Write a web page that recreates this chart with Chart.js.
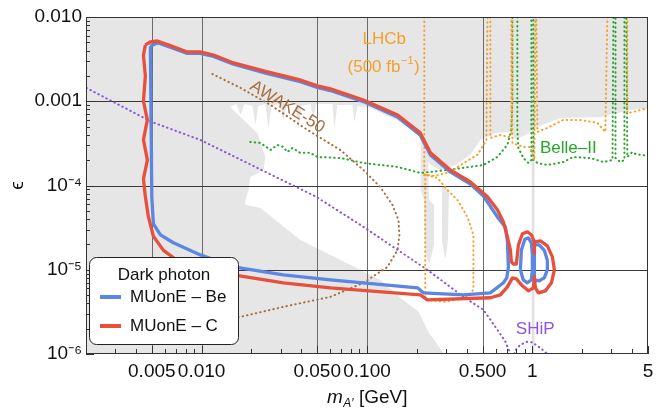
<!DOCTYPE html>
<html>
<head>
<meta charset="utf-8">
<title>Dark photon reach</title>
<script src="https://cdn.jsdelivr.net/npm/chart.js@4.4.1/dist/chart.umd.min.js"></script>
<style>
    html, body { margin: 0; padding: 0; background: #fff; }
    canvas { display: block; }
</style>
</head>
<body>
<canvas id="reachChart" width="668" height="411"></canvas>
<script>

/*
 * Data: [m_A' (GeV), epsilon]
 */

const xTickValues = [0.005, 0.01, 0.05, 0.1, 0.5, 1, 5];
const xTickLabels = ["0.005", "0.010", "0.050", "0.100", "0.500", "1", "5"];

const yTickValues = [1e-6, 1e-5, 1e-4, 1e-3, 1e-2];
const yTickLabels = ["10\u207B\u2076", "10\u207B\u2075", "10\u207B\u2074", "0.001", "0.010"];

const gridX = [0.005, 0.01, 0.05, 0.1, 0.5];
const gridY = [1e-5, 1e-4, 1e-3];

// white (not yet excluded) window inside the grey exclusions
const allowedRegion = [
    [0.0149, 8.56e-4], [0.0162, 9.3e-4], [0.0172, 6.88e-4], [0.0182, 9.3e-4],
    [0.0203, 8.8e-4], [0.0212, 5.24e-4], [0.0220, 8.8e-4], [0.0243, 9.3e-4],
    [0.0254, 4.82e-4], [0.0264, 8.8e-4], [0.0299, 9.3e-4], [0.0312, 6.0e-4],
    [0.0326, 9.04e-4], [0.0369, 9.3e-4], [0.0385, 4.57e-4], [0.0401, 8.8e-4],
    [0.0455, 9.3e-4], [0.0474, 6.34e-4], [0.0494, 9.3e-4], [0.0618, 9.3e-4],
    [0.0635, 4.82e-4], [0.0662, 9.04e-4], [0.0816, 9.04e-4], [0.0839, 5.68e-4],
    [0.0875, 8.8e-4], [0.105, 8.33e-4], [0.129, 6.88e-4], [0.155, 5.84e-4],
    [0.183, 4.82e-4], [0.210, 3.88e-4], [0.213, 2.64e-4], [0.242, 1.75e-4],
    [0.278, 1.53e-4], [0.342, 1.75e-4], [0.422, 2.31e-4], [0.485, 3.48e-4],
    [0.597, 4.21e-4], [0.736, 4.33e-4], [0.789, 3.48e-4], [0.907, 3.98e-4],
    [1.072, 4.96e-4], [1.476, 6.34e-4], [2.58, 6.52e-4], [3.91, 7.88e-4],
    [5.2, 8.33e-4], [5.2, 9.5e-7], [0.298, 9.5e-7], [0.235, 1.83e-6],
    [0.205, 3.17e-6], [0.159, 4.65e-6], [0.120, 7.59e-6], [0.0601, 1.5e-5],
    [0.0395, 2.26e-5], [0.0227, 5.42e-5], [0.0184, 5.89e-5], [0.0184, 6.75e-5],
    [0.0192, 8.87e-5], [0.0197, 1.26e-4], [0.0237, 1.53e-4], [0.0243, 2.18e-4],
    [0.0217, 4.21e-4], [0.0172, 6.52e-4], [0.0149, 8.56e-4]
];

const greyIslandA = [
    [0.213, 3.48e-4], [0.232, 3.48e-4], [0.235, 6.75e-5], [0.252, 5.89e-5],
    [0.252, 1.97e-5], [0.238, 1.21e-5], [0.225, 1.72e-5], [0.222, 6.75e-5],
    [0.213, 8.87e-5], [0.213, 3.48e-4]
];

const greyIslandB = [
    [0.286, 9.62e-5], [0.311, 8.87e-5], [0.306, 2.26e-5], [0.298, 1.42e-5],
    [0.286, 2.26e-5], [0.286, 9.62e-5]
];

const phiBand = [[1.01, 1e-6], [1.01, 1e-2]];

const muoneC = [
    [0.00457, 4.66e-3], [0.00490, 5.05e-3], [0.00540, 5.19e-3], [0.0064, 4.6e-3],
    [0.0082, 3.85e-3], [0.0098, 3.85e-3], [0.0118, 3.54e-3], [0.0156, 2.85e-3],
    [0.0250, 2.23e-3], [0.0395, 1.79e-3], [0.0501, 1.52e-3], [0.0601, 1.40e-3],
    [0.0951, 1.035e-3], [0.153, 6.88e-4], [0.210, 4.21e-4], [0.242, 2.44e-4],
    [0.319, 1.53e-4], [0.422, 1.10e-4], [0.535, 7.33e-5], [0.614, 5.14e-5],
    [0.668, 3.70e-5], [0.706, 2.46e-5], [0.736, 1.72e-5], [0.746, 1.24e-5],
    [0.768, 1.17e-5], [0.800, 1.17e-5], [0.823, 1.97e-5], [0.870, 2.67e-5],
    [0.933, 2.82e-5], [0.986, 2.59e-5], [1.028, 2.14e-5], [1.118, 2.20e-5],
    [1.232, 1.92e-5], [1.321, 1.42e-5], [1.358, 9.97e-6], [1.303, 7.0e-6],
    [1.20, 5.62e-6], [1.087, 5.32e-6], [1.043, 6.10e-6], [1.028, 8.24e-6],
    [1.014, 6.10e-6], [0.946, 5.62e-6], [0.870, 6.44e-6], [0.800, 7.80e-6],
    [0.757, 8.02e-6], [0.706, 6.27e-6], [0.641, 5.04e-6], [0.557, 4.65e-6],
    [0.232, 4.40e-6], [0.210, 5.04e-6], [0.0601, 6.10e-6], [0.0312, 7.0e-6],
    [0.0156, 8.7e-6], [0.00776, 1.14e-5], [0.00588, 1.7e-5], [0.00511, 2.5e-5],
    [0.00477, 4.24e-5], [0.00457, 7.33e-5], [0.00445, 1.2e-4], [0.00470, 2.0e-4],
    [0.00445, 3.5e-4], [0.00470, 6.0e-4], [0.00445, 1.0e-3], [0.00457, 2.0e-3],
    [0.00445, 3.5e-3], [0.00457, 4.66e-3]
];

const muoneCInner = [[1.028, 2.14e-5], [1.028, 1.55e-5]];

const muoneBe = [
    [0.00490, 4.5e-3], [0.00540, 4.95e-3], [0.0064, 4.4e-3], [0.0082, 3.7e-3],
    [0.0098, 3.7e-3], [0.0118, 3.4e-3], [0.0156, 2.75e-3], [0.0250, 2.13e-3],
    [0.0395, 1.71e-3], [0.0501, 1.46e-3], [0.0601, 1.34e-3], [0.0951, 9.9e-4],
    [0.153, 6.5e-4], [0.210, 3.95e-4], [0.242, 2.3e-4], [0.319, 1.45e-4],
    [0.422, 1.04e-4], [0.506, 7.5e-5], [0.614, 4.24e-5], [0.687, 3.2e-5],
    [0.706, 2.2e-5], [0.716, 1.08e-5], [0.700, 8.0e-6], [0.668, 7.0e-6],
    [0.557, 5.32e-6], [0.383, 5.04e-6], [0.219, 5.32e-6], [0.202, 6.1e-6],
    [0.0601, 7.59e-6], [0.0312, 8.7e-6], [0.0156, 1.08e-5], [0.00984, 1.5e-5],
    [0.00675, 2.09e-5], [0.00564, 2.6e-5], [0.00511, 3.5e-5], [0.00500, 7.3e-5],
    [0.00490, 4.5e-3]
];

const muoneBeLoopLeft = [
    [0.846, 1.0e-5], [0.858, 1.72e-5], [0.90, 2.3e-5], [0.946, 2.39e-5],
    [0.986, 2.09e-5], [1.0, 1.5e-5], [1.0, 1.0e-5], [0.986, 7.59e-6],
    [0.933, 7.0e-6], [0.880, 7.59e-6], [0.846, 1.0e-5]
];

const muoneBeLoopRight = [
    [1.028, 1.97e-5], [1.10, 1.97e-5], [1.18, 1.7e-5], [1.232, 1.3e-5],
    [1.232, 1.0e-5], [1.18, 8.0e-6], [1.10, 7.4e-6], [1.028, 7.6e-6],
    [1.028, 1.97e-5]
];

const shipMain = [
    [0.00201, 1.44e-3], [0.005, 5.68e-4], [0.00984, 3.47e-4], [0.0494, 7.33e-5],
    [0.0951, 3.23e-5], [0.153, 1.72e-5], [0.232, 9.97e-6], [0.383, 4.77e-6],
    [0.506, 3.34e-6], [0.614, 1.94e-6], [0.687, 1.40e-6], [0.736, 1.0e-6],
    [0.75, 8e-7]
];

const shipBump = [
    [0.757, 9e-7], [0.80, 1.15e-6], [0.846, 1.29e-6], [0.933, 1.40e-6],
    [1.0, 1.37e-6], [1.118, 1.18e-6], [1.232, 1.0e-6], [1.28, 9e-7]
];

const awake50 = [
    [0.0116, 2.11e-3], [0.0172, 1.44e-3], [0.0261, 9.04e-4], [0.0436, 4.57e-4],
    [0.0690, 2.64e-4], [0.0951, 1.53e-4], [0.120, 9.62e-5], [0.1425, 5.89e-5],
    [0.155, 3.91e-5], [0.157, 2.59e-5], [0.153, 1.72e-5], [0.133, 1.08e-5],
    [0.0951, 7.0e-6], [0.0601, 4.77e-6], [0.0312, 3.63e-6], [0.0172, 2.76e-6],
    [0.00984, 2.22e-6]
];

const belle2 = [
    [0.0197, 3.29e-4], [0.0227, 3.20e-4], [0.0261, 2.64e-4], [0.0287, 3.03e-4],
    [0.0312, 2.87e-4], [0.0330, 2.50e-4], [0.0354, 2.79e-4], [0.0395, 2.44e-4],
    [0.0455, 2.44e-4], [0.0501, 2.18e-4], [0.0690, 2.12e-4], [0.0951, 1.85e-4],
    [0.153, 1.66e-4], [0.210, 1.41e-4], [0.242, 1.45e-4], [0.383, 1.62e-4],
    [0.506, 1.75e-4], [0.614, 2.18e-4], [0.706, 3.03e-4], [0.746, 4.57e-4],
    [0.757, 1.035e-3], [0.757, 1e-2], null,
    [0.811, 1e-2], [0.811, 4.57e-4], [0.823, 2.79e-4], [0.882, 2.12e-4],
    [0.946, 1.85e-4], [0.986, 2.01e-4], [0.986, 1e-2], [1.014, 1e-2],
    [1.014, 2.01e-4], [1.072, 1.85e-4], [1.232, 1.75e-4], [1.539, 1.90e-4],
    [1.769, 2.18e-4], [2.24, 2.12e-4], [2.69, 1.90e-4], [3.05, 2.01e-4],
    [3.09, 1e-2], [3.18, 1e-2], [3.18, 2.12e-4], [3.40, 1.90e-4],
    [3.60, 2.01e-4], [3.60, 1e-2], [3.70, 1e-2], [3.75, 2.18e-4],
    [4.02, 2.50e-4], [4.20, 2.37e-4], [4.50, 2.31e-4], [5.0, 2.25e-4]
];

const lhcbPrompt = [
    [0.222, 1e-2], [0.222, 1.34e-4], [0.259, 1.30e-4], [0.319, 1.45e-4],
    [0.394, 1.90e-4], [0.465, 2.31e-4], [0.506, 3.03e-4], [0.527, 3.48e-4],
    [0.535, 1e-2], [0.557, 1e-2], [0.557, 3.67e-4], [0.641, 3.98e-4],
    [0.716, 3.77e-4], [0.746, 3.98e-4], [0.746, 1e-2], [0.757, 1e-2],
    [0.757, 3.20e-4], [0.882, 2.87e-4], [0.972, 2.87e-4], [1.028, 2.01e-4],
    [1.043, 1e-2], [1.057, 1e-2], [1.072, 4.32e-4], [1.232, 4.82e-4],
    [1.539, 6.0e-4], [1.95, 6.0e-4], [2.47, 5.53e-4], [2.76, 4.32e-4],
    [2.84, 1e-2], null,
    [3.75, 1e-2], [3.75, 7.26e-4], [4.08, 7.46e-4], [5.0, 8.33e-4]
];

const lhcbDisplaced = [
    [0.225, 1.34e-4], [0.225, 4.40e-6], [0.298, 4.16e-6], [0.394, 4.65e-6],
    [0.440, 5.78e-6], [0.440, 2.59e-5], [0.405, 4.24e-5], [0.352, 6.75e-5],
    [0.306, 8.87e-5], [0.267, 1.23e-4], [0.225, 1.34e-4]
];


/*
 * Colours and text
 */

const FONT = "\"Liberation Sans\", Arial, sans-serif";
const GREY = "#e6e6e6";
const BLUE = "#5b86e2";
const RED = "#e8503c";
const PURPLE = "#8a55d8";
const BROWN = "#a46f3e";
const ORANGE = "#f4a02a";
const GREEN = "#26a62b";

const notes = [
    { text: "LHCb", x: 0.127, y: 5.48e-3, color: ORANGE },
    { text: "(500 fb", sup: "\u22121", tail: ")", x: 0.126, y: 2.55e-3, color: ORANGE },
    { text: "Belle\u2013II", x: 1.65, y: 2.79e-4, color: GREEN },
    { text: "SHiP", x: 1.04, y: 1.94e-6, color: PURPLE },
    { text: "AWAKE-50", x: 0.033, y: 8.56e-4, color: BROWN, angle: 32 }
];


const toPoints =
    arr => arr.map(
        p => p ? { x: p[0], y: p[1] } : { x: 1, y: null }
    );

const dotted = (label, data, color) => ({
    label,
    data: toPoints(data),
    borderColor: color,
    borderWidth: 2,
    borderDash: [0.5, 4],
    borderCapStyle: "round",
    fill: false,
    order: 5
});

const solid = (label, data, color, order) => ({
    label,
    data: toPoints(data),
    borderColor: color,
    borderWidth: 3.3,
    borderJoinStyle: "round",
    fill: false,
    order
});

const patch = (label, data, color, order) => ({
    label,
    data: toPoints(data),
    borderColor: color,
    borderWidth: 1,
    backgroundColor: color,
    fill: "shape",
    order,
    bg: true
});


/*
 * Own drawing: grey backdrop, grid, inward ticks, frame, notes, legend
 */

let gridDrawn = false;

const drawGrid = chart => {

    const { ctx, chartArea: a, scales: { x, y } } = chart;

    ctx.save();
    ctx.lineWidth = 1;

    ctx.strokeStyle = "#6c6c6c";
    gridX.forEach(v => {
        const px = Math.round(x.getPixelForValue(v)) + 0.5;
        ctx.beginPath();
        ctx.moveTo(px, a.top);
        ctx.lineTo(px, a.bottom);
        ctx.stroke();
    });

    ctx.strokeStyle = "#3a3a3a";
    gridY.forEach(v => {
        const py = Math.round(y.getPixelForValue(v)) + 0.5;
        ctx.beginPath();
        ctx.moveTo(a.left, py);
        ctx.lineTo(a.right, py);
        ctx.stroke();
    });

    ctx.restore();

};

const logSteps = (lo, hi) => {
    const out = [];
    for (let e = Math.floor(Math.log10(lo)); e <= Math.ceil(Math.log10(hi)); e++) {
        for (let m = 1; m < 10; m++) {
            const v = m * Math.pow(10, e);
            if (v >= lo * 0.999 && v <= hi * 1.001) {
                out.push({ v, major: m === 1 });
            }
        }
    }
    return out;
};

const figurePlugin = {

    id: "figure",

    beforeDatasetsDraw(chart) {
        const { ctx, chartArea: a } = chart;
        ctx.save();
        ctx.fillStyle = GREY;
        ctx.fillRect(a.left, a.top, a.width, a.height);
        ctx.restore();
        gridDrawn = false;
    },

    beforeDatasetDraw(chart, args) {
        if (!gridDrawn && !chart.data.datasets[args.index].bg) {
            drawGrid(chart);
            gridDrawn = true;
        }
    },

    afterDraw(chart) {

        const { ctx, chartArea: a, scales: { x, y } } = chart;

        ctx.save();

        // frame
        ctx.strokeStyle = "#333";
        ctx.lineWidth = 1;
        ctx.strokeRect(a.left + 0.5, a.top + 0.5, a.width - 1, a.height - 1);

        // inward ticks
        ctx.beginPath();
        logSteps(x.min, x.max).forEach(t => {
            const px = Math.round(x.getPixelForValue(t.v)) + 0.5;
            const len = (t.major || xTickValues.includes(t.v)) ? 8 : 5;
            ctx.moveTo(px, a.bottom);
            ctx.lineTo(px, a.bottom - len);
        });
        logSteps(y.min, y.max).forEach(t => {
            const py = Math.round(y.getPixelForValue(t.v)) + 0.5;
            const len = t.major ? 8 : 4;
            ctx.moveTo(a.left, py);
            ctx.lineTo(a.left + len, py);
        });
        ctx.stroke();

        // curve labels
        notes.forEach(n => {
            const px = x.getPixelForValue(n.x);
            const py = y.getPixelForValue(n.y);
            ctx.save();
            ctx.translate(px, py);
            if (n.angle) {
                ctx.rotate(n.angle * Math.PI / 180);
            }
            ctx.fillStyle = n.color;
            ctx.textBaseline = "middle";
            ctx.font = "17px " + FONT;
            if (n.sup) {
                const w1 = ctx.measureText(n.text).width;
                ctx.font = "11px " + FONT;
                const w2 = ctx.measureText(n.sup).width;
                ctx.font = "17px " + FONT;
                const w3 = ctx.measureText(n.tail).width;
                let cx = -(w1 + w2 + w3 + 1) / 2;
                ctx.textAlign = "left";
                ctx.fillText(n.text, cx, 0);
                cx += w1 + 0.5;
                ctx.font = "11px " + FONT;
                ctx.fillText(n.sup, cx, -6);
                cx += w2 + 0.5;
                ctx.font = "17px " + FONT;
                ctx.fillText(n.tail, cx, 0);
            } else {
                ctx.textAlign = "center";
                ctx.fillText(n.text, 0, 0);
            }
            ctx.restore();
        });

        // axis titles
        ctx.fillStyle = "#111";
        ctx.textBaseline = "alphabetic";
        ctx.textAlign = "left";
        ctx.font = "italic 19px " + FONT;
        const wm = ctx.measureText("m").width;
        ctx.font = "italic 12px " + FONT;
        const wa = ctx.measureText("A\u2032").width;
        ctx.font = "19px " + FONT;
        const wg = ctx.measureText(" [GeV]").width;
        let tx = (a.left + a.right) / 2 - (wm + wa + wg) / 2;
        ctx.font = "italic 19px " + FONT;
        ctx.fillText("m", tx, 403);
        tx += wm + 0.5;
        ctx.font = "italic 12px " + FONT;
        ctx.fillText("A\u2032", tx, 407);
        tx += wa;
        ctx.font = "19px " + FONT;
        ctx.fillText(" [GeV]", tx, 403);

        ctx.save();
        ctx.translate(18, (a.top + a.bottom) / 2);
        ctx.rotate(-Math.PI / 2);
        ctx.textAlign = "center";
        ctx.textBaseline = "middle";
        ctx.font = "19px " + FONT;
        ctx.fillText("\u03F5", 0, 0);
        ctx.restore();

        // legend
        const lx = 89.5, ly = 257.5, lw = 149, lh = 87;
        ctx.beginPath();
        ctx.roundRect(lx, ly, lw, lh, 7);
        ctx.fillStyle = "#fff";
        ctx.fill();
        ctx.strokeStyle = "#222";
        ctx.lineWidth = 1;
        ctx.stroke();

        ctx.fillStyle = "#111";
        ctx.textBaseline = "middle";
        ctx.textAlign = "center";
        ctx.font = "17px " + FONT;
        ctx.fillText("Dark photon", lx + lw / 2, 275);

        const entries = chart.data.datasets.filter(d => d.inLegend);
        entries.forEach((d, i) => {
            const ey = 297 + i * 29;
            ctx.strokeStyle = d.borderColor;
            ctx.lineWidth = 4;
            ctx.beginPath();
            ctx.moveTo(100, ey);
            ctx.lineTo(121, ey);
            ctx.stroke();
            ctx.fillStyle = "#111";
            ctx.textAlign = "left";
            ctx.fillText(d.label, 130, ey);
        });

        ctx.restore();

    }

};


document.addEventListener(

    "DOMContentLoaded",

    () => {

        Chart.defaults.font.family = FONT;
        Chart.defaults.font.size = 19;
        Chart.defaults.color = "#111";

        const canvas = document.getElementById("reachChart");

        const blueMain = solid("MUonE \u2013 Be", muoneBe, BLUE, 3);
        blueMain.inLegend = true;

        const redMain = solid("MUonE \u2013 C", muoneC, RED, 1);
        redMain.inLegend = true;

        new Chart(

            canvas,

            {

                type: "line",

                data: {

                    datasets: [

                        {
                            label: "allowed",
                            data: toPoints(allowedRegion),
                            borderColor: "rgba(0,0,0,0)",
                            borderWidth: 0,
                            backgroundColor: "#ffffff",
                            fill: "shape",
                            order: 20,
                            bg: true
                        },

                        patch("grey island A", greyIslandA, GREY, 19),
                        patch("grey island B", greyIslandB, GREY, 19),

                        {
                            label: "phi",
                            data: toPoints(phiBand),
                            borderColor: "#e0e0e0",
                            borderWidth: 2.5,
                            fill: false,
                            order: 19,
                            bg: true
                        },

                        dotted("SHiP", shipMain, PURPLE),
                        dotted("SHiP bump", shipBump, PURPLE),
                        dotted("AWAKE-50", awake50, BROWN),
                        dotted("LHCb prompt", lhcbPrompt, ORANGE),
                        dotted("LHCb displaced", lhcbDisplaced, ORANGE),
                        dotted("Belle-II", belle2, GREEN),

                        blueMain,
                        solid("Be loop L", muoneBeLoopLeft, BLUE, 3),
                        solid("Be loop R", muoneBeLoopRight, BLUE, 3),

                        redMain,
                        solid("C inner", muoneCInner, RED, 1)

                    ]

                },

                options: {

                    responsive: false,
                    animation: false,
                    devicePixelRatio: 1,
                    events: [],

                    layout: {
                        padding: { top: 17, right: 20, bottom: 0, left: 0 }
                    },

                    elements: {
                        point: { radius: 0, hoverRadius: 0 },
                        line: { tension: 0 }
                    },

                    plugins: {
                        legend: { display: false },
                        tooltip: { enabled: false }
                    },

                    scales: {

                        x: {
                            type: "logarithmic",
                            min: 0.002,
                            max: 5,
                            grid: { display: false, drawTicks: false, tickLength: 0 },
                            border: { display: false },
                            afterBuildTicks: s => {
                                s.ticks = xTickValues.map(v => ({ value: v }));
                            },
                            afterFit: s => {
                                s.height = 57;
                            },
                            ticks: {
                                autoSkip: false,
                                maxRotation: 0,
                                minRotation: 0,
                                padding: 6,
                                color: "#111",
                                callback: (v, i) => xTickLabels[i]
                            }
                        },

                        y: {
                            type: "logarithmic",
                            min: 1e-6,
                            max: 1e-2,
                            grid: { display: false, drawTicks: false, tickLength: 0 },
                            border: { display: false },
                            afterBuildTicks: s => {
                                s.ticks = yTickValues.map(v => ({ value: v }));
                            },
                            afterFit: s => {
                                s.width = 86;
                            },
                            ticks: {
                                autoSkip: false,
                                padding: 4,
                                color: "#111",
                                callback: (v, i) => yTickLabels[i]
                            }
                        }

                    }

                },

                plugins: [figurePlugin]

            }

        );

    }

);

</script>
</body>
</html>
